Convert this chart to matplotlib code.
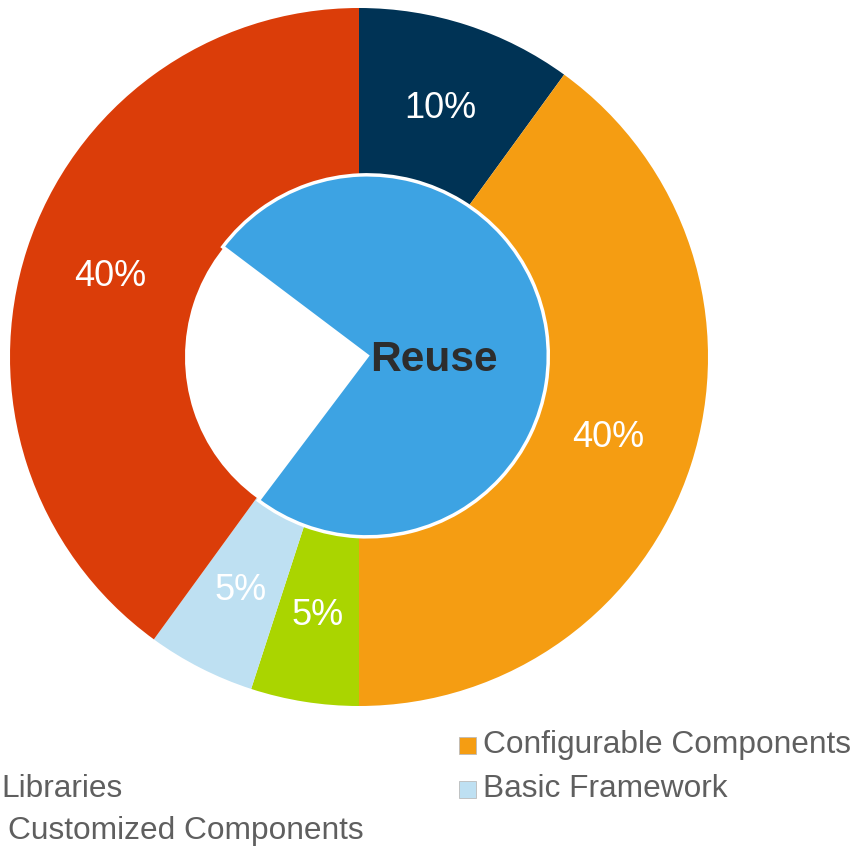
import matplotlib
matplotlib.use("Agg")
import matplotlib.pyplot as plt
from matplotlib.patches import Rectangle

plt.rcParams['font.family'] = ['Liberation Sans', 'DejaVu Sans']

# Outer ring data (clockwise from top)
outer_values = [10, 40, 5, 5, 40]
outer_colors = ['#003355', '#F59D12', '#AAD500', '#BEE0F2', '#DB3D09']
outer_labels = ['10%', '40%', '5%', '5%', '40%']

# Inner pie data
inner_values = [25, 75]
inner_colors = ['#FFFFFF', '#3DA3E3']
inner_label = 'Reuse'

# Legend entries visible (cropped legend)
legend_texts = ['Configurable Components', 'Basic Framework', 'Libraries', 'Customized Components']
legend_colors = ['#F59D12', '#BEE0F2', None, None]

W, H = 857, 847
fig = plt.figure(figsize=(W / 100, H / 100), dpi=100)
cx, cy, R = 359, 357, 349
ax = fig.add_axes([(cx - R) / W, (H - cy - R) / H, 2 * R / W, 2 * R / H])
ax.set_xlim(-1, 1)
ax.set_ylim(-1, 1)
ax.axis('off')

wedges, texts = ax.pie(outer_values, colors=outer_colors, startangle=90, counterclock=False,
                       radius=1.0, labels=outer_labels, labeldistance=0.75,
                       wedgeprops=dict(width=1 - 174 / 349, linewidth=0),
                       textprops=dict(color='white', fontsize=26))
for t in texts:
    t.set_ha('center')
    t.set_va('center')

inner_r = 181 / 349
iw, _ = ax.pie(inner_values, colors=inner_colors, startangle=143, counterclock=True,
               radius=inner_r, explode=[0, 0.024],
               wedgeprops=dict(linewidth=0))
iw[0].set_visible(False)
iw[1].set_edgecolor('white')
iw[1].set_linewidth(2.5)
ax.text(0.215, -0.01, inner_label, ha='center', va='center', fontsize=30.5,
        fontweight='bold', color='#2D2D2D')
ax.set_xlim(-1, 1)
ax.set_ylim(-1, 1)

# Legend (manual, cropped like reference)
leg_pos = [(483, 745), (483, 789), (1, 789), (8, 831)]
for (x, y), txt, col in zip(leg_pos, legend_texts, legend_colors):
    fig.text(x / W, 1 - y / H, txt, ha='left', va='center', fontsize=22.8, color='#5F5F5F')
    if col is not None:
        fig.patches.append(Rectangle(((x - 24) / W, 1 - (y + 9) / H), 17 / W, 17 / H,
                                     transform=fig.transFigure, facecolor=col,
                                     edgecolor='#BBBBBB', linewidth=0.6))

fig.savefig('out.png', dpi=100, facecolor='white')
